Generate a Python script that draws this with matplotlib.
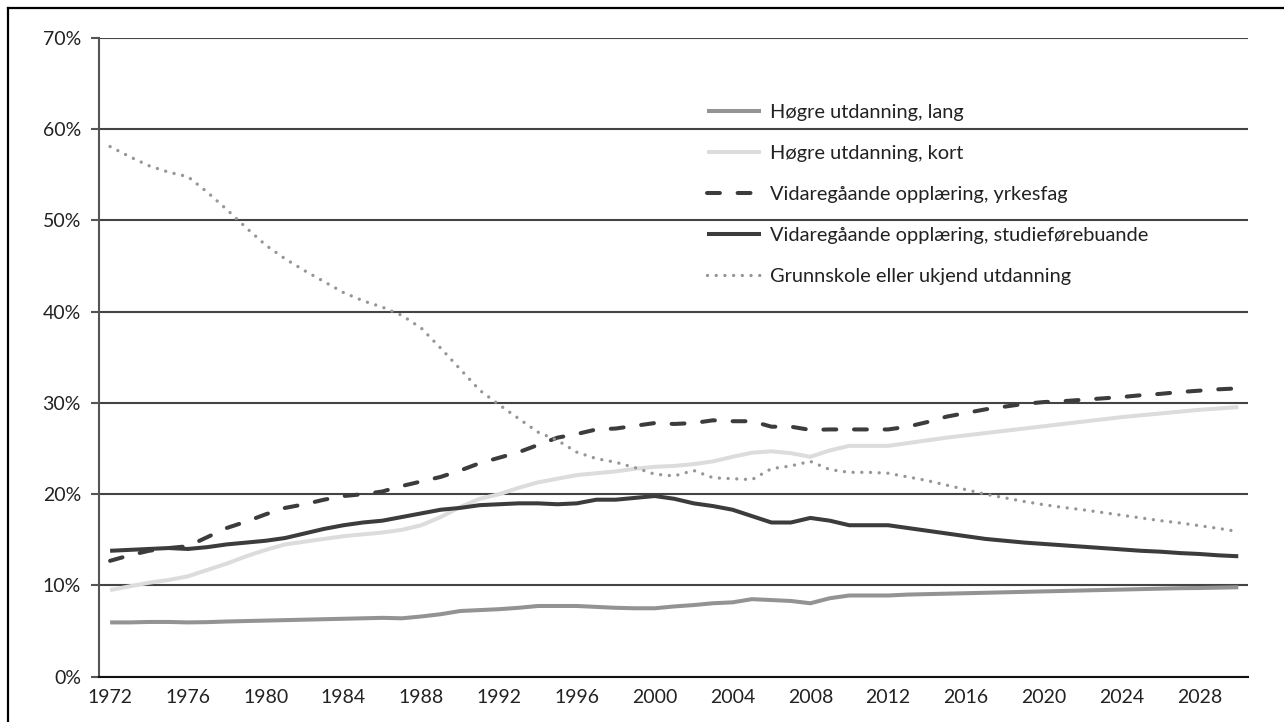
import matplotlib
matplotlib.use("Agg")
import matplotlib.pyplot as plt
from matplotlib.lines import Line2D
from matplotlib.ticker import FuncFormatter, FixedLocator

plt.rcParams['font.family'] = ['Lato', 'DejaVu Sans']

years = list(range(1972, 2031))

hogre_lang = [5.95, 5.95, 6.0, 6.0, 5.95, 5.98, 6.05, 6.1, 6.15, 6.2,
              6.25, 6.3, 6.35, 6.4, 6.45, 6.4, 6.6, 6.85, 7.2, 7.3,
              7.4, 7.55, 7.75, 7.75, 7.75, 7.65, 7.55, 7.5, 7.5, 7.7,
              7.85, 8.05, 8.15, 8.5, 8.4, 8.3, 8.05, 8.6, 8.9, 8.9,
              8.9, 9.0, 9.05, 9.1, 9.15, 9.2, 9.25, 9.3, 9.35, 9.4,
              9.45, 9.5, 9.55, 9.6, 9.65, 9.7, 9.72, 9.76, 9.8]

hogre_kort = [9.5, 9.9, 10.3, 10.6, 11.0, 11.7, 12.4, 13.2, 13.9, 14.5,
              14.8, 15.1, 15.4, 15.6, 15.8, 16.1, 16.6, 17.5, 18.6, 19.5,
              20.0, 20.7, 21.3, 21.7, 22.1, 22.3, 22.5, 22.8, 23.0, 23.1,
              23.3, 23.6, 24.1, 24.55, 24.7, 24.5, 24.1, 24.8, 25.3, 25.3,
              25.3, 25.6, 25.9, 26.2, 26.45, 26.7, 26.95, 27.2, 27.45, 27.7,
              27.95, 28.2, 28.45, 28.65, 28.85, 29.05, 29.25, 29.4, 29.55]

yrkesfag = [12.7, 13.3, 13.8, 14.1, 14.3, 15.3, 16.3, 17.0, 17.8, 18.5,
            18.9, 19.4, 19.8, 20.0, 20.3, 20.9, 21.4, 21.9, 22.6, 23.4,
            24.0, 24.6, 25.4, 26.2, 26.6, 27.1, 27.2, 27.5, 27.8, 27.7,
            27.8, 28.1, 28.0, 28.0, 27.4, 27.4, 27.05, 27.1, 27.1, 27.1,
            27.1, 27.4, 27.9, 28.5, 28.9, 29.3, 29.6, 29.9, 30.1, 30.2,
            30.35, 30.5, 30.65, 30.85, 31.0, 31.2, 31.35, 31.5, 31.6]

studie = [13.8, 13.9, 14.0, 14.1, 14.0, 14.2, 14.5, 14.7, 14.9, 15.2,
          15.7, 16.2, 16.6, 16.9, 17.1, 17.5, 17.9, 18.3, 18.5, 18.8,
          18.9, 19.0, 19.0, 18.9, 19.0, 19.4, 19.4, 19.6, 19.8, 19.5,
          19.0, 18.7, 18.3, 17.6, 16.9, 16.9, 17.4, 17.1, 16.6, 16.6,
          16.6, 16.3, 16.0, 15.7, 15.4, 15.1, 14.9, 14.7, 14.55, 14.4,
          14.25, 14.1, 13.95, 13.8, 13.7, 13.55, 13.45, 13.3, 13.2]

grunnskole = [58.1, 57.0, 56.0, 55.3, 54.8, 53.1, 51.2, 49.2, 47.3, 45.8,
              44.5, 43.3, 42.1, 41.2, 40.5, 39.6, 38.2, 36.0, 33.7, 31.4,
              29.8, 28.3, 26.8, 25.9, 24.6, 23.9, 23.5, 22.9, 22.2, 22.0,
              22.6, 21.8, 21.7, 21.6, 22.8, 23.1, 23.6, 22.7, 22.4, 22.4,
              22.3, 21.9, 21.5, 21.0, 20.5, 20.0, 19.6, 19.2, 18.85, 18.55,
              18.3, 18.0, 17.7, 17.4, 17.1, 16.85, 16.55, 16.25, 15.9]

labels = ["Høgre utdanning, lang",
          "Høgre utdanning, kort",
          "Vidaregåande opplæring, yrkesfag",
          "Vidaregåande opplæring, studieførebuande",
          "Grunnskole eller ukjend utdanning"]

yticks = [0, 10, 20, 30, 40, 50, 60, 70]
xticks = list(range(1972, 2030, 4))

W, H = 1284, 722
fig = plt.figure(figsize=(W / 100, H / 100), dpi=100)
ax = fig.add_axes([99 / W, 1 - 676.7 / H, (1248 - 99) / W, (676.7 - 38) / H])

lw = 2.9
ax.plot(years, hogre_lang, color="#939393", lw=lw, solid_capstyle='butt', label=labels[0], zorder=3)
ax.plot(years, hogre_kort, color="#dcdcdc", lw=lw, solid_capstyle='butt', label=labels[1], zorder=3)
ax.plot(years, yrkesfag, color="#3c3c3c", lw=lw, dashes=(3.2, 4.4), dash_capstyle='round', label=labels[2], zorder=3)
ax.plot(years, studie, color="#3c3c3c", lw=lw, solid_capstyle='butt', label=labels[3], zorder=3)
ax.plot(years, grunnskole, color="#969696", lw=2.4, dashes=(0.01, 2.6), dash_capstyle='round', label=labels[4], zorder=3)

ax.set_xlim(1971.43, 2030.5)
ax.set_ylim(0, 70)
ax.yaxis.set_major_locator(FixedLocator(yticks))
ax.xaxis.set_major_locator(FixedLocator(xticks))
ax.yaxis.set_major_formatter(FuncFormatter(lambda v, p: f"{int(v)}%"))
ax.yaxis.grid(True, color="#444444", lw=1.5, zorder=1)
ax.set_axisbelow(True)
for s in ['top', 'right']:
    ax.spines[s].set_visible(False)
ax.spines['left'].set_color("#555555")
ax.spines['left'].set_linewidth(1.5)
ax.spines['bottom'].set_color("#111111")
ax.spines['bottom'].set_linewidth(1.5)
ax.tick_params(axis='y', length=6, width=1.5, color="#555555", pad=7, labelsize=14, labelcolor="#222222")
ax.tick_params(axis='x', length=0, pad=9, labelsize=14, labelcolor="#222222")

leg = ax.legend(loc='upper left', bbox_to_anchor=(707 / W, 1 - 104 / H), bbox_transform=fig.transFigure,
                frameon=False, fontsize=14.4, handlelength=2.7, handletextpad=0.45,
                labelspacing=1.2, borderpad=0, borderaxespad=0)
for t in leg.get_texts():
    t.set_color("#222222")

# outer frame (top and left edges visible)
fig.add_artist(Line2D([8 / W, 1], [1 - 8 / H, 1 - 8 / H], transform=fig.transFigure, color='black', lw=1.6))
fig.add_artist(Line2D([8 / W, 8 / W], [0, 1 - 8 / H], transform=fig.transFigure, color='black', lw=1.6))

fig.savefig("out.png", dpi=100)
